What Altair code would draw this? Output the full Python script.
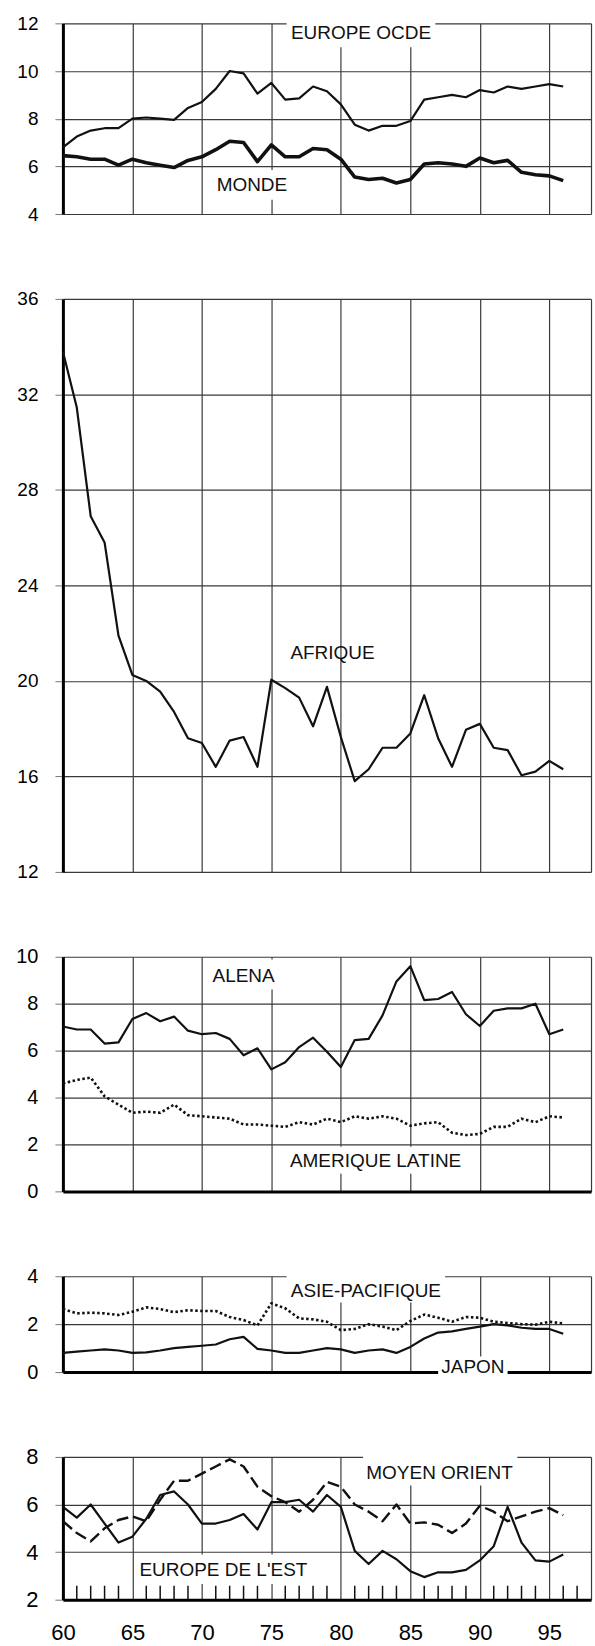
import altair as alt
import pandas as pd

# ---- data -------------------------------------------------------------
years = [60, 61, 62, 63, 64, 65, 66, 67, 68, 69, 70, 71, 72, 73, 74, 75, 76, 77, 78,
         79, 80, 81, 82, 83, 84, 85, 86, 87, 88, 89, 90, 91, 92, 93, 94, 95, 96]

europe_ocde = [6.8, 7.25, 7.5, 7.6, 7.6, 8.0, 8.05, 8.0, 7.95, 8.45, 8.7, 9.25, 10.0,
               9.9, 9.05, 9.5, 8.8, 8.85, 9.35, 9.15, 8.6, 7.75, 7.5, 7.7, 7.7, 7.9,
               8.8, 8.9, 9.0, 8.9, 9.2, 9.1, 9.35, 9.25, 9.35, 9.45, 9.35]
monde = [6.45, 6.4, 6.3, 6.3, 6.05, 6.3, 6.15, 6.05, 5.95, 6.25, 6.4, 6.7, 7.05, 7.0,
         6.2, 6.9, 6.4, 6.4, 6.75, 6.7, 6.3, 5.55, 5.45, 5.5, 5.3, 5.45, 6.1, 6.15,
         6.1, 6.0, 6.35, 6.15, 6.25, 5.75, 5.65, 5.6, 5.4]
afrique = [33.8, 31.45, 26.9, 25.8, 21.9, 20.25, 20.0, 19.55, 18.7, 17.6, 17.4, 16.4,
           17.5, 17.65, 16.4, 20.05, 19.7, 19.3, 18.1, 19.75, 17.65, 15.8, 16.3, 17.2,
           17.2, 17.8, 19.4, 17.6, 16.4, 17.95, 18.2, 17.2, 17.1, 16.05, 16.2, 16.65, 16.3]
alena = [7.03, 6.9, 6.9, 6.3, 6.35, 7.35, 7.6, 7.25, 7.45, 6.85, 6.7, 6.75, 6.5, 5.8,
         6.1, 5.2, 5.5, 6.15, 6.55, 5.95, 5.3, 6.45, 6.5, 7.5, 8.95, 9.6, 8.15, 8.2,
         8.5, 7.55, 7.05, 7.7, 7.8, 7.8, 8.0, 6.7, 6.9]
amerique_latine = [4.6, 4.75, 4.85, 4.05, 3.7, 3.35, 3.4, 3.35, 3.7, 3.25, 3.2, 3.15,
                   3.1, 2.85, 2.85, 2.8, 2.75, 2.95, 2.85, 3.1, 2.95, 3.2, 3.1, 3.2,
                   3.1, 2.8, 2.9, 2.95, 2.5, 2.4, 2.45, 2.75, 2.75, 3.1, 2.95, 3.2, 3.15]
asie_pacifique = [2.63, 2.45, 2.48, 2.45, 2.38, 2.52, 2.7, 2.63, 2.5, 2.58, 2.55, 2.55,
                  2.3, 2.17, 1.95, 2.87, 2.66, 2.24, 2.2, 2.1, 1.75, 1.8, 2.0, 1.9,
                  1.75, 2.13, 2.4, 2.27, 2.1, 2.3, 2.27, 2.1, 2.05, 2.0, 1.98, 2.1, 2.03]
japon = [0.8, 0.85, 0.9, 0.95, 0.9, 0.8, 0.82, 0.9, 1.0, 1.05, 1.1, 1.15, 1.37, 1.47,
         0.97, 0.9, 0.8, 0.8, 0.9, 1.0, 0.95, 0.8, 0.9, 0.95, 0.8, 1.05, 1.4, 1.65,
         1.7, 1.8, 1.9, 2.0, 1.95, 1.85, 1.8, 1.8, 1.6]
europe_est = [5.9, 5.45, 6.0, 5.2, 4.4, 4.65, 5.4, 6.4, 6.55, 6.0, 5.2, 5.2, 5.35, 5.6,
              4.95, 6.1, 6.1, 6.2, 5.7, 6.4, 5.9, 4.05, 3.5, 4.05, 3.7, 3.2, 2.95, 3.15,
              3.15, 3.25, 3.65, 4.25, 5.9, 4.4, 3.65, 3.6, 3.9]
moyen_orient = [5.3, 4.8, 4.45, 5.0, 5.35, 5.5, 5.3, 6.2, 7.0, 7.0, 7.3, 7.6, 7.9, 7.6,
                6.75, 6.35, 6.1, 5.7, 6.2, 6.95, 6.75, 6.0, 5.7, 5.3, 6.0, 5.2, 5.25,
                5.15, 4.8, 5.2, 5.95, 5.7, 5.3, 5.5, 5.7, 5.85, 5.55]

x_ticks = [60, 65, 70, 75, 80, 85, 90, 95]
minor_years = [61, 62, 63, 64, 66, 67, 68, 69, 71, 72, 73, 74, 76, 77, 78, 79,
               81, 82, 83, 84, 86, 87, 88, 89, 91, 92, 93, 94, 96, 97]

# ---- styling ----------------------------------------------------------
FONT = "Liberation Sans"
INK = "#111111"
GRID = "#3a3a3a"
X_DOMAIN = [60, 98]
GRID_X = x_ticks + [98]
PLOT_W = 529
LABEL_SIZE = 19


def series_df(values):
    return pd.DataFrame({"year": years, "value": values})


def x_enc(field, bottom_domain, show_labels):
    axis = alt.Axis(
        values=GRID_X, grid=True, gridColor=GRID, gridWidth=1.2,
        ticks=False, tickSize=0, domain=bottom_domain, domainColor="black",
        domainWidth=3, labels=show_labels, labelFlush=False,
        labelExpr="datum.value == 98 ? '' : datum.label",
        labelFont=FONT, labelFontSize=22, labelColor="black", labelPadding=23,
        title=None,
    )
    return alt.X(field, type="quantitative",
                 scale=alt.Scale(domain=X_DOMAIN, nice=False, zero=False), axis=axis)


def y_enc(field, domain, values, font_size):
    axis = alt.Axis(
        values=values, grid=True, gridColor=GRID, gridWidth=1.2,
        domain=True, domainColor="black", domainWidth=3,
        ticks=True, tickSize=8, tickColor="#777777", tickWidth=1,
        labelFont=FONT, labelFontSize=font_size, labelColor="black",
        labelPadding=17, labelFlush=False, title=None,
    )
    return alt.Y(field, type="quantitative",
                 scale=alt.Scale(domain=domain, nice=False, zero=False), axis=axis)


def panel(height, domain, values, font_size, series, labels, boxes,
          bottom_domain, show_x_labels=False, extra=None):
    xe = lambda f: x_enc(f, bottom_domain, show_x_labels)
    ye = lambda f: y_enc(f, domain, values, font_size)
    layers = []
    # white patches that keep the grid clear behind each series name
    if boxes:
        bdf = pd.DataFrame(boxes, columns=["x0", "x1", "y0", "y1"])
        layers.append(
            alt.Chart(bdf).mark_rect(color="white").encode(
                x=xe("x0"), x2="x1", y=ye("y0"), y2="y1")
        )
    for vals, width, dash in series:
        mark = dict(color=INK, strokeWidth=width, strokeJoin="round", strokeCap="butt")
        if dash:
            mark["strokeDash"] = dash
        layers.append(
            alt.Chart(series_df(vals)).mark_line(**mark).encode(
                x=xe("year"), y=ye("value"))
        )
    ldf = pd.DataFrame(labels, columns=["x", "y", "text"])
    layers.append(
        alt.Chart(ldf).mark_text(font=FONT, fontSize=LABEL_SIZE, color=INK,
                                 align="center", baseline="middle").encode(
            x=xe("x"), y=ye("y"), text="text:N")
    )
    if extra is not None:
        layers.append(extra(xe, ye))
    return alt.layer(*layers).properties(width=PLOT_W, height=height)


def minor_ticks(height):
    def build(xe, ye):
        tdf = pd.DataFrame({"year": minor_years, "base": [2] * len(minor_years)})
        return alt.Chart(tdf).mark_rule(color=INK, strokeWidth=1.5).encode(
            x=xe("year"), y=ye("base"), y2=alt.value(height - 14))
    return build


p1 = panel(
    191, [4, 12], [4, 6, 8, 10, 12], 19,
    [(europe_ocde, 2.2, None), (monde, 3.6, None)],
    [(81.45, 11.58, "EUROPE OCDE"), (73.6, 5.2, "MONDE")],
    [(76.1, 86.8, 12.2, 11.0), (71.0, 76.2, 5.85, 4.6)],
    bottom_domain=False,
)
p2 = panel(
    574, [12, 36], [12, 16, 20, 24, 28, 32, 36], 19,
    [(afrique, 2.2, None)],
    [(79.4, 21.15, "AFRIQUE")],
    [],
    bottom_domain=False,
)
p3 = panel(
    235, [0, 10], [0, 2, 4, 6, 8, 10], 20,
    [(alena, 2.2, None), (amerique_latine, 2.6, [2.5, 2.5])],
    [(73.0, 9.2, "ALENA"), (82.5, 1.3, "AMERIQUE LATINE")],
    [(70.7, 75.4, 9.88, 8.6), (76.0, 89.0, 1.9, 0.75)],
    bottom_domain=True,
)
p4 = panel(
    96, [0, 4], [0, 2, 4], 20,
    [(asie_pacifique, 2.6, [2.5, 2.5]), (japon, 2.2, None)],
    [(81.8, 3.39, "ASIE-PACIFIQUE"), (89.5, 0.22, "JAPON")],
    [(76.1, 87.5, 4.2, 2.9), (87.0, 92.0, 0.65, -0.2)],
    bottom_domain=True,
)
p5 = panel(
    143, [2, 8], [2, 4, 6, 8], 22,
    [(moyen_orient, 2.4, [12, 5]), (europe_est, 2.2, None)],
    [(87.1, 7.31, "MOYEN ORIENT"), (71.55, 3.23, "EUROPE DE L'EST")],
    [(81.6, 92.7, 8.2, 6.8), (65.3, 77.8, 3.9, 2.66)],
    bottom_domain=True, show_x_labels=True, extra=minor_ticks(143),
)

chart = (
    alt.vconcat(p1, p2, p3, p4, p5, spacing=85, bounds="flush")
    .properties(padding={"left": 15, "top": 13, "right": 4, "bottom": 0},
                background="white")
    .configure_view(strokeOpacity=0)
)

chart.save("out.html", embed_options={"renderer": "svg", "actions": False})
